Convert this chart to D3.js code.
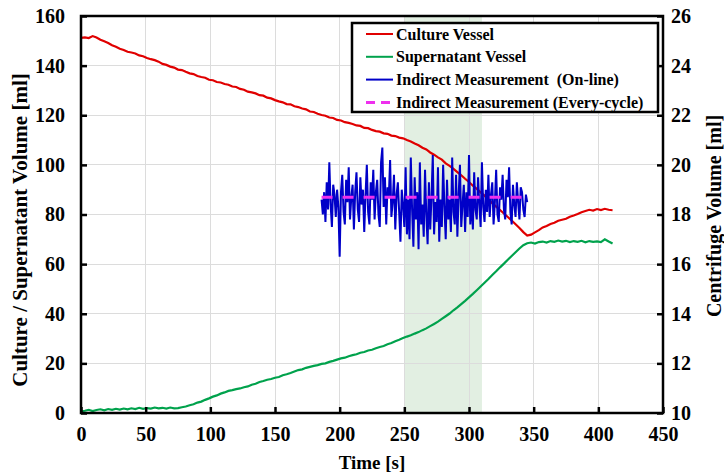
<!DOCTYPE html>
<meta charset="utf-8">
<style>
body { margin: 0; background: #fff; }
svg text { font-family: "Liberation Serif", "Times New Roman", serif; font-weight: bold; fill: #000; }
.grid line { stroke: #dcdcdc; stroke-width: 1; shape-rendering: crispEdges; }
.axis path { display: none; }
.axis line { stroke: #000; stroke-width: 2.5; }
.axis text { font-size: 20px; }
.line { fill: none; }
</style>
<svg width="724" height="473"></svg>
<script src="https://cdn.jsdelivr.net/npm/d3@7"></script>
<script>
// culture & supernatant vessels, one reading every 3 s from t = 0
var sampleStep = 3;
var cultureVol = [
  151.2, 151.4, 151.1, 151.9, 151.3, 150.4, 149.8, 149.1, 148.2, 147.6,
  146.8, 146.3, 145.6, 145.3, 144.9, 144.1, 143.8, 143.1, 142.6, 142.2,
  141.6, 140.7, 140.3, 139.6, 139.2, 138.4, 138.2, 137.5, 136.9, 136.6,
  135.8, 135.4, 135.1, 134.3, 134.1, 133.4, 133.2, 132.6, 132.3, 131.6,
  131.4, 130.6, 130.3, 129.5, 129.2, 128.8, 128.1, 127.9, 127.1, 126.8,
  126.1, 125.6, 125.2, 124.5, 124.4, 123.6, 123.3, 122.7, 122.4, 121.5,
  121.3, 120.6, 120.1, 119.8, 119.1, 118.9, 118.1, 117.9, 117.2, 116.9,
  116.5, 115.9, 115.7, 114.9, 114.8, 114.1, 113.6, 113.4, 112.7, 112.5,
  111.8, 111.6, 111.0, 110.7, 110.0, 109.4, 108.6, 107.9, 106.9, 106.2,
  105.0, 104.1, 103.0, 102.1, 100.6, 99.6, 98.4, 97.1, 95.8, 94.4,
  93.1, 91.6, 90.3, 88.9, 87.6, 86.0, 84.6, 83.2, 81.8, 80.4,
  79.0, 77.6, 76.1, 74.6, 72.9, 71.5, 71.9, 72.8, 73.7, 74.8,
  75.4, 76.2, 76.7, 77.5, 77.9, 78.3, 79.1, 79.6, 80.2, 80.9,
  81.4, 81.9, 81.6, 82.2, 81.8, 82.3, 81.9, 81.7
];
var supernatantVol = [
  0.6, 0.9, 1.3, 0.8, 1.2, 1.5, 1.1, 1.6, 1.3, 1.7,
  1.4, 1.8, 1.5, 1.9, 1.6, 2.1, 1.7, 2.0, 1.8, 2.2,
  1.9, 2.1, 1.8, 2.2, 1.9, 2.0, 2.3, 2.6, 3.1, 3.5,
  4.2, 4.6, 5.3, 5.9, 6.6, 7.1, 7.8, 8.3, 8.9, 9.2,
  9.6, 9.9, 10.4, 10.7, 11.4, 11.8, 12.5, 12.9, 13.4, 13.7,
  14.2, 14.5, 15.2, 15.6, 16.1, 16.7, 17.3, 17.6, 18.2, 18.6,
  19.0, 19.3, 19.8, 20.0, 20.6, 21.0, 21.5, 22.0, 22.3, 22.9,
  23.3, 23.7, 24.3, 24.6, 25.2, 25.5, 26.1, 26.6, 27.0, 27.7,
  28.2, 28.9, 29.5, 30.2, 30.8, 31.3, 32.0, 32.6, 33.4, 34.1,
  35.0, 35.9, 36.8, 37.9, 39.0, 40.1, 41.4, 42.6, 43.9, 45.2,
  46.6, 48.0, 49.5, 51.0, 52.5, 54.0, 55.6, 57.1, 58.7, 60.2,
  61.8, 63.3, 64.8, 66.3, 67.6, 68.4, 68.7, 68.3, 68.9, 69.1,
  68.7, 69.3, 69.0, 69.5, 69.1, 69.4, 68.9, 69.3, 69.0, 69.4,
  68.8, 69.3, 69.0, 69.2, 68.9, 70.0, 69.1, 68.3
];

// centrifuge, indirect on-line measurement, one reading per second from t = 186
var onlineStart = 186;
var onlineVol = [
  18.6, 18.0, 18.9, 17.7, 19.3, 18.2, 20.1, 18.4, 17.5, 19.2,
  18.8, 17.9, 19.0, 18.3, 16.3, 18.9, 19.6, 18.1, 17.6, 19.4,
  18.5, 19.9, 17.8, 18.7, 19.2, 17.4, 18.9, 19.7, 18.2, 17.7,
  19.5, 18.4, 19.0, 17.3, 18.8, 20.0, 18.1, 17.6, 19.3, 18.6,
  19.8, 17.8, 18.9, 19.4, 18.0, 17.5, 20.1, 20.7, 18.3, 19.5,
  17.6, 19.1, 18.7, 20.2, 17.9, 18.5, 19.6, 17.4, 18.8, 19.3,
  18.1, 16.9, 19.0, 18.4, 17.5, 19.9, 17.2, 18.6, 17.0, 20.3,
  18.2, 16.7, 19.5, 17.8, 18.9, 16.6, 20.1, 17.6, 18.4, 17.1,
  19.8, 18.0, 16.8, 19.3, 17.4, 18.7, 20.4, 17.2, 18.5, 17.7,
  19.9, 16.9, 18.6, 17.5, 20.0, 18.3, 17.0, 19.4, 17.8, 18.6,
  17.3, 20.3, 18.1, 17.6, 19.6, 17.1, 18.8, 20.0, 17.5, 18.4,
  19.2, 17.3, 18.9, 17.9, 20.4, 17.6, 18.7, 17.4, 19.7, 18.2,
  17.8, 19.5, 18.4, 17.5, 20.1, 18.3, 17.7, 19.0, 18.1, 19.6,
  17.9, 18.8, 19.3, 17.6, 18.5, 19.8, 18.0, 17.7, 19.1, 18.6,
  19.6, 18.2, 17.8, 19.4, 18.7, 19.9, 18.1, 17.6, 19.2, 18.4,
  17.9, 19.3, 18.5, 17.8, 19.1, 18.9, 18.2, 17.9, 18.8, 18.5
];
// every-cycle indirect measurement [time, ml]
var everyCycle = [[186, 18.7], [345, 18.7]];

var shadedRange = [250, 310];
var xTicks = [0, 50, 100, 150, 200, 250, 300, 350, 400, 450];
var yLeftTicks = [0, 20, 40, 60, 80, 100, 120, 140, 160];
var yRightTicks = [10, 12, 14, 16, 18, 20, 22, 24, 26];
var legendLabels = ["Culture Vessel", "Supernatant Vessel",
  "Indirect Measurement  (On-line)", "Indirect Measurement (Every-cycle)"];
var colors = ["#e00000", "#00a24c", "#0000c8", "#ee30ee"];

var svg = d3.select("svg"),
    margin = {top: 16, right: 61, bottom: 60, left: 81},
    width = +svg.attr("width") - margin.left - margin.right,
    height = +svg.attr("height") - margin.top - margin.bottom,
    g = svg.append("g").attr("transform", "translate(" + margin.left + "," + margin.top + ")");

var x = d3.scaleLinear().domain([0, 450]).range([0, width]),
    yL = d3.scaleLinear().domain([0, 160]).range([height, 0]),
    yR = d3.scaleLinear().domain([10, 26]).range([height, 0]);

// shaded window
g.append("rect")
    .attr("x", x(shadedRange[0]))
    .attr("width", x(shadedRange[1]) - x(shadedRange[0]))
    .attr("y", 0)
    .attr("height", height)
    .attr("fill", "#e2efe2");

// grid
var grid = g.append("g").attr("class", "grid");
grid.selectAll(".gx").data(xTicks.slice(1, -1)).enter().append("line")
    .attr("x1", x).attr("x2", x).attr("y1", 0).attr("y2", height);
grid.selectAll(".gy").data(yLeftTicks.slice(1, -1)).enter().append("line")
    .attr("x1", 0).attr("x2", width).attr("y1", yL).attr("y2", yL);

var lineL = d3.line()
    .x(function(d, i) { return x(i * sampleStep); })
    .y(function(d) { return yL(d); });

g.append("path").datum(cultureVol)
    .attr("class", "line")
    .attr("d", lineL)
    .style("stroke", colors[0]).style("stroke-width", 2.2);

g.append("path").datum(supernatantVol)
    .attr("class", "line")
    .attr("d", lineL)
    .style("stroke", colors[1]).style("stroke-width", 2.2);

g.append("path").datum(onlineVol)
    .attr("class", "line")
    .attr("d", d3.line()
      .x(function(d, i) { return x(onlineStart + i); })
      .y(function(d) { return yR(d); }))
    .style("stroke", colors[2]).style("stroke-width", 2);

g.append("path").datum(everyCycle)
    .attr("class", "line")
    .attr("d", d3.line()
      .x(function(d) { return x(d[0]); })
      .y(function(d) { return yR(d[1]); }))
    .style("stroke", colors[3]).style("stroke-width", 3)
    .style("stroke-dasharray", "11,10");

// axes, ticks inward
g.append("g")
    .attr("class", "axis")
    .attr("transform", "translate(0," + height + ")")
    .call(d3.axisBottom(x).tickValues(xTicks).tickSizeInner(-6).tickSizeOuter(0).tickPadding(14));

g.append("g")
    .attr("class", "axis")
    .call(d3.axisLeft(yL).tickValues(yLeftTicks).tickSizeInner(-6).tickSizeOuter(0).tickPadding(16));

g.append("g")
    .attr("class", "axis")
    .attr("transform", "translate(" + width + ",0)")
    .call(d3.axisRight(yR).tickValues(yRightTicks).tickSizeInner(-6).tickSizeOuter(0).tickPadding(8));

g.append("rect")
    .attr("width", width).attr("height", height)
    .attr("fill", "none").attr("stroke", "#000").attr("stroke-width", 2.5);

// axis titles
svg.append("text")
    .attr("x", 372).attr("y", 469)
    .attr("text-anchor", "middle")
    .style("font-size", "19px")
    .text("Time [s]");

svg.append("text")
    .attr("transform", "translate(27,230) rotate(-90)")
    .attr("text-anchor", "middle")
    .style("font-size", "21px")
    .text("Culture / Supernatant Volume [ml]");

svg.append("text")
    .attr("transform", "translate(721,216) rotate(-90)")
    .attr("text-anchor", "middle")
    .style("font-size", "20px")
    .text("Centrifuge Volume [ml]");

// legend
var legend = svg.append("g").attr("transform", "translate(352,23)");
legend.append("rect")
    .attr("width", 306).attr("height", 89)
    .attr("fill", "#fff").attr("stroke", "#000").attr("stroke-width", 2.5);

var item = legend.selectAll(".item").data(legendLabels).enter().append("g")
    .attr("transform", function(d, i) { return "translate(0," + (11 + i * 22.8) + ")"; });

item.append("line")
    .attr("x1", 14).attr("x2", 41)
    .attr("stroke", function(d, i) { return colors[i]; })
    .attr("stroke-width", function(d, i) { return i == 3 ? 3 : 2; })
    .attr("stroke-dasharray", function(d, i) { return i == 3 ? "9,6" : null; });

item.append("text")
    .attr("x", 44).attr("dy", "0.35em")
    .style("font-size", "16px")
    .style("white-space", "pre")
    .text(function(d) { return d; });
</script>
